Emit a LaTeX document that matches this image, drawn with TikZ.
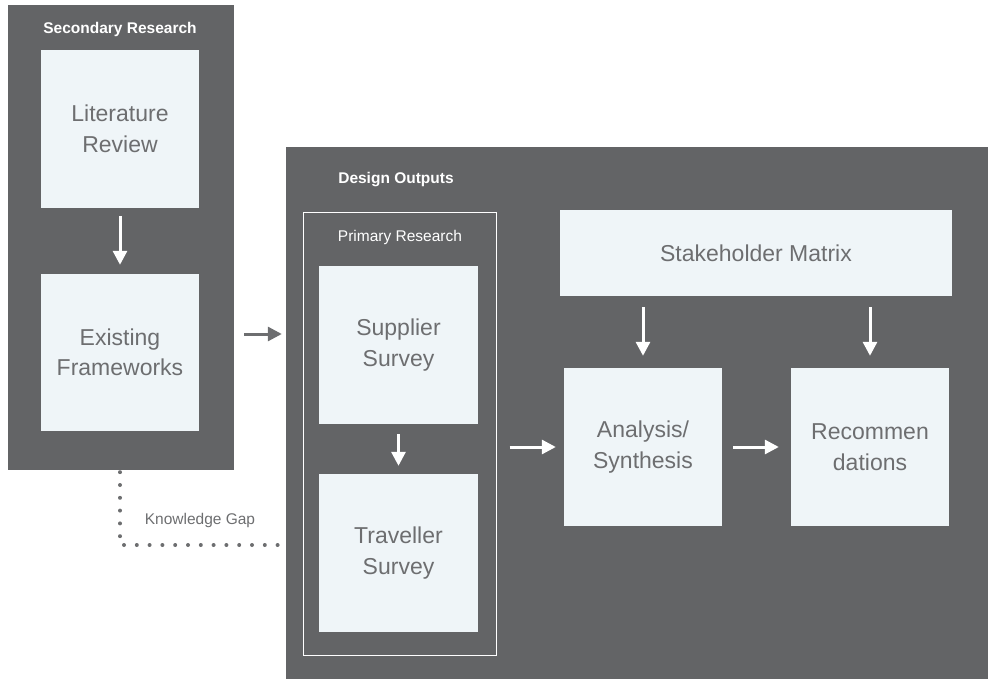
\documentclass[tikz,border=0pt]{standalone}
\usepackage{fontspec}
\setmainfont{Liberation Sans}
\usetikzlibrary{arrows.meta}

\definecolor{panelgray}{HTML}{636466}
\definecolor{boxfill}{HTML}{EFF5F8}
\definecolor{textgray}{HTML}{6D6E70}

\tikzset{
  panel/.style={fill=panelgray, inner sep=0pt},
  stagebox/.style={fill=boxfill, text=textgray, align=center, inner sep=0pt,
    font=\fontsize{23}{30.5}\selectfont},
  paneltitle/.style={text=white, font=\bfseries\fontsize{15.5}{18}\selectfont},
  flow/.style={white, line width=3pt, -{Triangle[length=14pt,width=14pt]}},
}

\begin{document}
\begin{tikzpicture}[x=1pt, y=-1pt]

  % page frame
  \useasboundingbox (0,0) rectangle (988,679);

  % Panels
  \node[panel, minimum width=226pt, minimum height=465pt] (secpanel) at (121,237.5) {};
  \node[panel, minimum width=702pt, minimum height=532pt] (despanel) at (637,413) {};

  % Panel titles
  \node[paneltitle] (sectitle) at (120,29) {Secondary Research};
  \node[paneltitle] (destitle) at (396,180) {Design Outputs};

  % Primary research frame
  \node[draw=white, line width=1pt, minimum width=193pt, minimum height=442pt,
        inner sep=0pt] (prim) at (399.5,434) {};
  \node[text=white, font=\fontsize{15.5}{18}\selectfont] (primtitle) at (400,237) {Primary Research};

  % Stage boxes
  \node[stagebox, minimum width=158pt, minimum height=158pt] (lit) at (120,129) {Literature\\Review};
  \node[stagebox, minimum width=158pt, minimum height=157pt] (exist) at (120,352.5) {Existing\\Frameworks};
  \node[stagebox, minimum width=159pt, minimum height=158pt] (supp) at (398.5,345) {Supplier\\Survey};
  \node[stagebox, minimum width=159pt, minimum height=158pt] (trav) at (398.5,553) {Traveller\\Survey};
  \node[stagebox, minimum width=392pt, minimum height=86pt] (stake) at (756,253) {Stakeholder Matrix};
  \node[stagebox, minimum width=158pt, minimum height=158pt] (anal) at (643,447) {Analysis/\\Synthesis};
  \node[stagebox, minimum width=158pt, minimum height=158pt] (reco) at (870,447) {Recommen\\dations};

  % Flow arrows
  \draw[flow, shorten <=8pt, shorten >=9pt] (lit) -- (exist);
  \draw[flow, shorten <=10pt, shorten >=8pt] (supp) -- (trav);
  \draw[flow, shorten <=11pt, shorten >=12pt] (stake.south -| anal) -- (anal.north);
  \draw[flow, shorten <=11pt, shorten >=12pt] (stake.south -| reco) -- (reco.north);
  \draw[flow, shorten <=13pt, shorten >=8pt] (prim.east |- anal.west) -- (anal.west);
  \draw[flow, shorten <=11pt, shorten >=12pt] (anal) -- (reco);

  % Link between the panels
  \coordinate (linkstart) at (secpanel.east |- 0,334);
  \draw[textgray, line width=3pt, -{Triangle[length=14pt,width=14pt]},
        shorten <=10pt, shorten >=4pt] (linkstart) -- (despanel.west |- linkstart);

  % Knowledge gap
  \coordinate (gapcorner) at (120,545);
  \draw[textgray, line width=4pt, line cap=round, dash pattern=on 0pt off 12.8pt]
    ([yshift=-2pt]secpanel.south -| gapcorner) -- (gapcorner) -- ([xshift=-7pt]despanel.west |- gapcorner);
  \node[text=textgray, font=\fontsize{15.5}{18}\selectfont] (gaplabel) at (200,520) {Knowledge Gap};

\end{tikzpicture}
\end{document}
